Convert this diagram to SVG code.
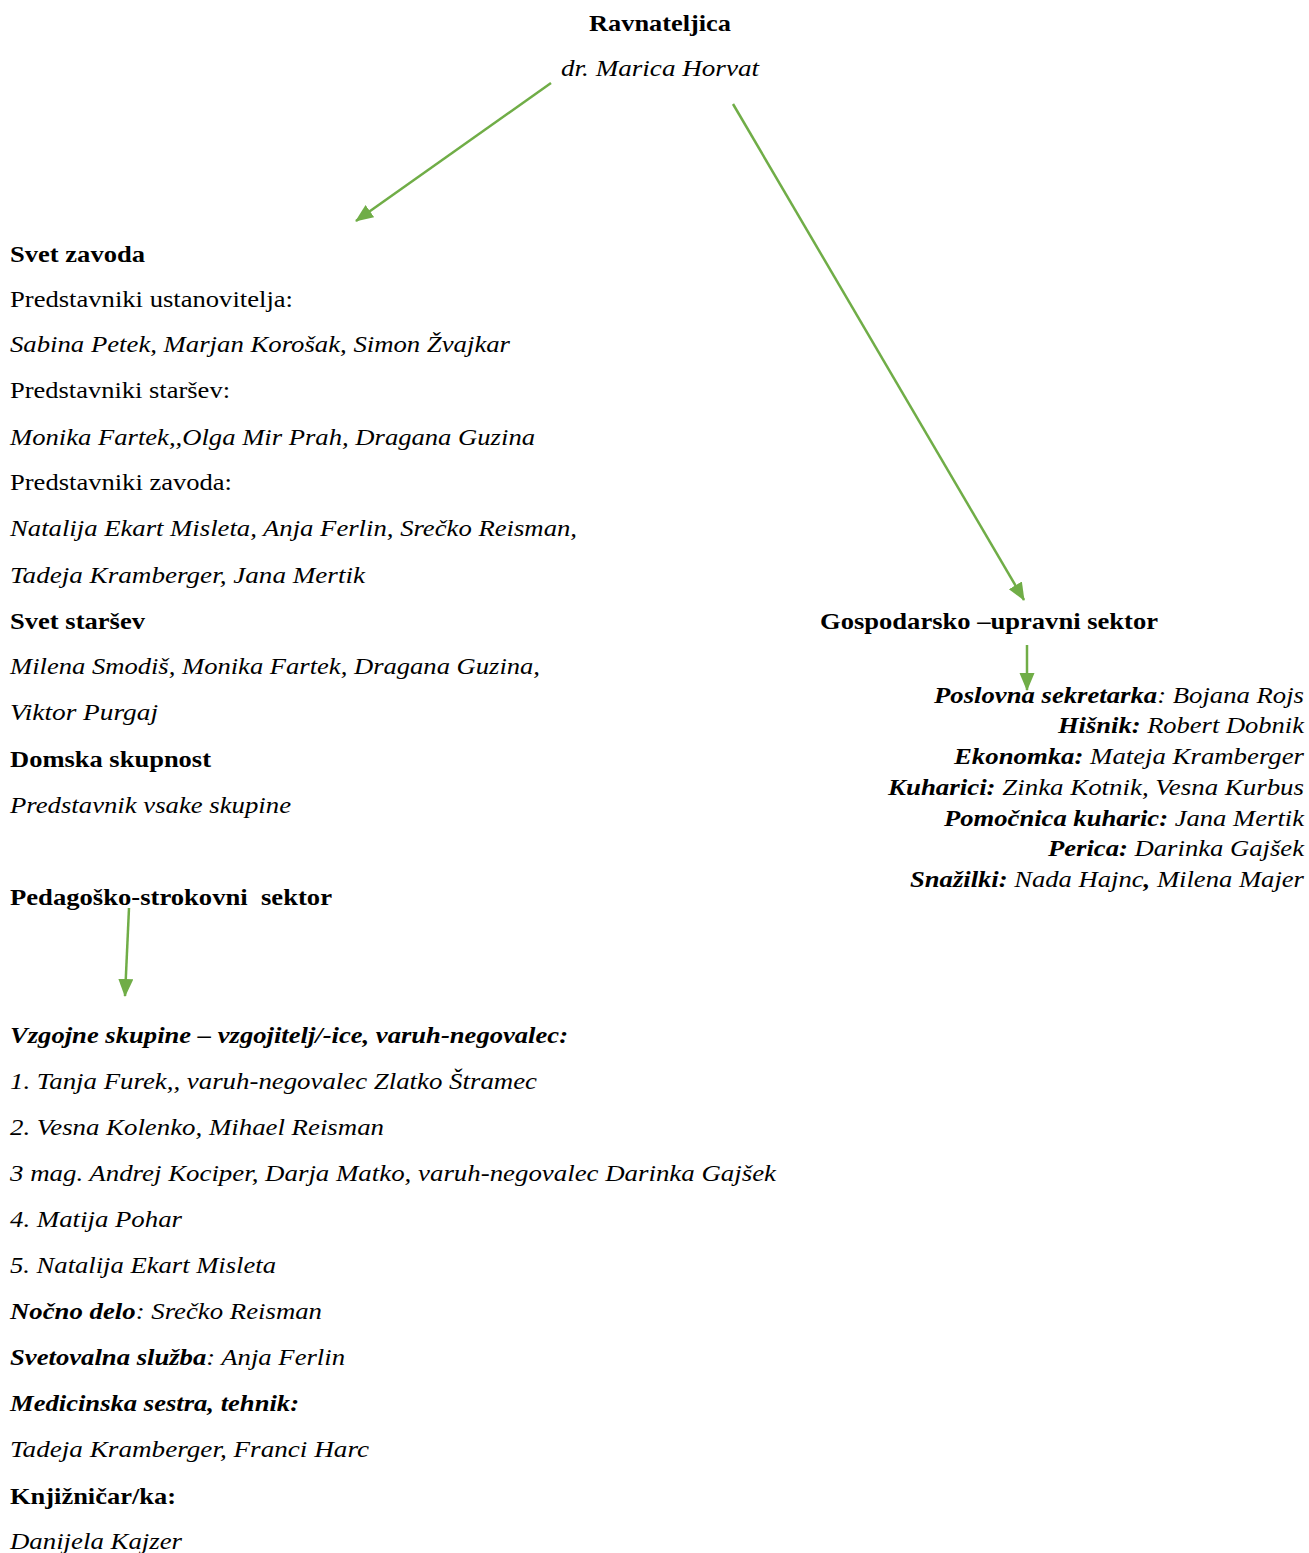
<svg xmlns="http://www.w3.org/2000/svg" width="1309" height="1553" viewBox="0 0 1309 1553" font-family="Liberation Serif, Times New Roman, Times, serif">
<style>
text{font-family:'Liberation Serif','Times New Roman',Times,serif;font-size:24px;fill:#000}
.b{font-weight:bold}
.i{font-style:italic}
.c{stroke:#70AD47;stroke-width:2.5;fill:none}
</style>
<defs>
<marker id="ah" markerUnits="userSpaceOnUse" markerWidth="20" markerHeight="16" refX="17" refY="7.5" orient="auto">
<path d="M0,0 L18,7.5 L0,15 z" fill="#70AD47"/>
</marker>
</defs>
<rect width="1309" height="1553" fill="#fff"/>
<g id="connectors">
<line class="c" x1="551" y1="83" x2="356" y2="221" marker-end="url(#ah)"/>
<line class="c" x1="733" y1="104" x2="1024" y2="600" marker-end="url(#ah)"/>
<line class="c" x1="1027" y1="645" x2="1027" y2="690" marker-end="url(#ah)"/>
<line class="c" x1="129" y1="908" x2="125" y2="996" marker-end="url(#ah)"/>
</g>
<g id="ravnateljica">
<text class="b" x="589" y="31" textLength="142" lengthAdjust="spacingAndGlyphs">Ravnateljica</text>
<text class="i" x="561" y="76" textLength="198" lengthAdjust="spacingAndGlyphs">dr. Marica Horvat</text>
</g>
<g id="svet-zavoda">
<text class="b" x="10" y="262" textLength="135" lengthAdjust="spacingAndGlyphs">Svet zavoda</text>
<text x="10" y="307" textLength="283" lengthAdjust="spacingAndGlyphs">Predstavniki ustanovitelja:</text>
<text class="i" x="10" y="352" textLength="500" lengthAdjust="spacingAndGlyphs">Sabina Petek, Marjan Korošak, Simon Žvajkar</text>
<text x="10" y="398" textLength="220" lengthAdjust="spacingAndGlyphs">Predstavniki staršev:</text>
<text class="i" x="10" y="445" textLength="525" lengthAdjust="spacingAndGlyphs">Monika Fartek,,Olga Mir Prah, Dragana Guzina</text>
<text x="10" y="490" textLength="222" lengthAdjust="spacingAndGlyphs">Predstavniki zavoda:</text>
<text class="i" x="10" y="536" textLength="567" lengthAdjust="spacingAndGlyphs">Natalija Ekart Misleta, Anja Ferlin, Srečko Reisman,</text>
<text class="i" x="10" y="583" textLength="355" lengthAdjust="spacingAndGlyphs">Tadeja Kramberger, Jana Mertik</text>
</g>
<g id="svet-starsev">
<text class="b" x="10" y="629" textLength="135" lengthAdjust="spacingAndGlyphs">Svet staršev</text>
<text class="i" x="10" y="674" textLength="530" lengthAdjust="spacingAndGlyphs">Milena Smodiš, Monika Fartek, Dragana Guzina,</text>
<text class="i" x="10" y="720" textLength="148" lengthAdjust="spacingAndGlyphs">Viktor Purgaj</text>
</g>
<g id="domska-skupnost">
<text class="b" x="10" y="767" textLength="201" lengthAdjust="spacingAndGlyphs">Domska skupnost</text>
<text class="i" x="10" y="813" textLength="281" lengthAdjust="spacingAndGlyphs">Predstavnik vsake skupine</text>
</g>
<g id="pedagosko-strokovni-sektor">
<text class="b" x="10" y="905" textLength="322" lengthAdjust="spacingAndGlyphs" xml:space="preserve">Pedagoško-strokovni  sektor</text>
</g>
<g id="vzgojne-skupine">
<text class="b i" x="10" y="1043" textLength="558" lengthAdjust="spacingAndGlyphs">Vzgojne skupine – vzgojitelj/-ice, varuh-negovalec:</text>
<text class="i" x="10" y="1089" textLength="527" lengthAdjust="spacingAndGlyphs">1. Tanja Furek,, varuh-negovalec Zlatko Štramec</text>
<text class="i" x="10" y="1135" textLength="374" lengthAdjust="spacingAndGlyphs">2. Vesna Kolenko, Mihael Reisman</text>
<text class="i" x="10" y="1181" textLength="766" lengthAdjust="spacingAndGlyphs">3 mag. Andrej Kociper, Darja Matko, varuh-negovalec Darinka Gajšek</text>
<text class="i" x="10" y="1227" textLength="172" lengthAdjust="spacingAndGlyphs">4. Matija Pohar</text>
<text class="i" x="10" y="1273" textLength="266" lengthAdjust="spacingAndGlyphs">5. Natalija Ekart Misleta</text>
<text class="i" x="10" y="1319" textLength="312" lengthAdjust="spacingAndGlyphs"><tspan class="b">Nočno delo</tspan>: Srečko Reisman</text>
<text class="i" x="10" y="1365" textLength="335" lengthAdjust="spacingAndGlyphs"><tspan class="b">Svetovalna služba</tspan>: Anja Ferlin</text>
<text class="b i" x="10" y="1411" textLength="289" lengthAdjust="spacingAndGlyphs">Medicinska sestra, tehnik:</text>
<text class="i" x="10" y="1457" textLength="359" lengthAdjust="spacingAndGlyphs">Tadeja Kramberger, Franci Harc</text>
<text class="b" x="10" y="1504" textLength="166" lengthAdjust="spacingAndGlyphs">Knjižničar/ka:</text>
<text class="i" x="10" y="1549" textLength="172" lengthAdjust="spacingAndGlyphs">Danijela Kajzer</text>
</g>
<g id="gospodarsko-upravni-sektor">
<text class="b" x="820" y="629" textLength="338" lengthAdjust="spacingAndGlyphs">Gospodarsko –upravni sektor</text>
</g>
<g id="gospodarsko-osebje">
<text class="i" x="934" y="703" textLength="370" lengthAdjust="spacingAndGlyphs"><tspan class="b">Poslovna sekretarka</tspan>: Bojana Rojs</text>
<text class="i" x="1058" y="733" textLength="246" lengthAdjust="spacingAndGlyphs"><tspan class="b">Hišnik:</tspan> Robert Dobnik</text>
<text class="i" x="954" y="764" textLength="350" lengthAdjust="spacingAndGlyphs"><tspan class="b">Ekonomka:</tspan> Mateja Kramberger</text>
<text class="i" x="888" y="795" textLength="416" lengthAdjust="spacingAndGlyphs"><tspan class="b">Kuharici:</tspan> Zinka Kotnik, Vesna Kurbus</text>
<text class="i" x="944" y="826" textLength="360" lengthAdjust="spacingAndGlyphs"><tspan class="b">Pomočnica kuharic:</tspan> Jana Mertik</text>
<text class="i" x="1048" y="856" textLength="256" lengthAdjust="spacingAndGlyphs"><tspan class="b">Perica:</tspan> Darinka Gajšek</text>
<text class="i" x="910" y="887" textLength="394" lengthAdjust="spacingAndGlyphs"><tspan class="b">Snažilki:</tspan> Nada Hajnc<tspan class="b">,</tspan> Milena Majer</text>
</g>
</svg>
